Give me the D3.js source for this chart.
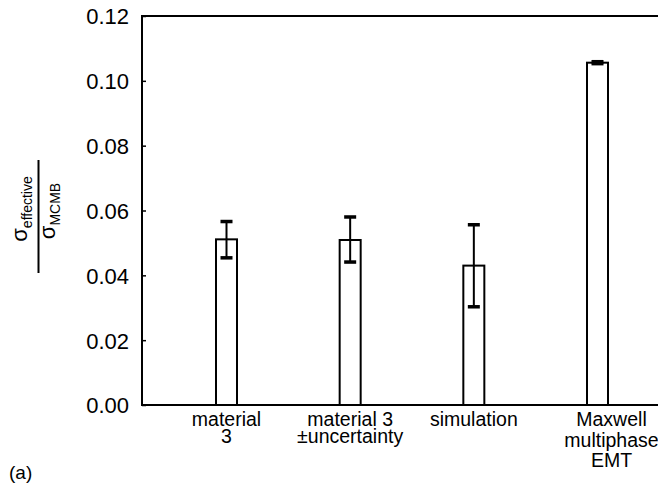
<!DOCTYPE html>
<meta charset="utf-8">
<head>
  <script src="https://cdnjs.cloudflare.com/ajax/libs/d3/7.8.5/d3.min.js"></script>
  <style>
    body { margin: 0; background: #fff; }
    svg { display: block; }
    text { font-family: "Liberation Sans", Arial, sans-serif; fill: #000; }
  </style>
</head>
<body>
<div id="my_dataviz"></div>
<script>

// data
var categories = ["material 3", "material 3 ±uncertainty", "simulation", "Maxwell multiphase EMT"];
var labelLines = [["material", "3"], ["material 3", "±uncertainty"], ["simulation"], ["Maxwell", "multiphase", "EMT"]];
var values = [0.0511, 0.0509, 0.0430, 0.1056];
var errLow = [0.0454, 0.0441, 0.0303, 0.1053];
var errHigh = [0.0566, 0.0580, 0.0556, 0.1059];
var yTicks = [0, 0.02, 0.04, 0.06, 0.08, 0.10, 0.12];

var W = 658, H = 487;
var plotLeft = 142, plotTop = 16, plotBottom = 405, plotRight = 658;

var svg = d3.select("#my_dataviz")
  .append("svg")
  .attr("width", W)
  .attr("height", H);

var y = d3.scaleLinear().domain([0, 0.12]).range([plotBottom, plotTop]);
var x = d3.scalePoint().domain(categories).range([226.5, 597.5]);

var data = categories.map(function (c, i) {
  return { cat: c, v: values[i], lo: errLow[i], hi: errHigh[i], lines: labelLines[i], i: i };
});

// Y axis (ticks pointing inward)
var yAxis = svg.append("g")
  .attr("transform", "translate(" + plotLeft + ",0)")
  .call(d3.axisLeft(y).tickValues(yTicks).tickSize(-4).tickPadding(13)
    .tickFormat(d3.format(".2f")));
yAxis.select(".domain").remove();
yAxis.selectAll(".tick line").attr("stroke", "#000").attr("stroke-width", 1.5);
yAxis.selectAll("text").style("font-size", "22px").attr("dy", "0.36em");

// frame: left, top and bottom lines
svg.append("path")
  .attr("d", "M" + plotRight + "," + plotTop + "H" + plotLeft + "V" + plotBottom + "H" + plotRight)
  .attr("fill", "none")
  .attr("stroke", "#000")
  .attr("stroke-width", 2);

var bw = 21;

// bars
svg.selectAll("mybar")
  .data(data)
  .enter()
  .append("rect")
  .attr("x", function (d) { return x(d.cat) - bw / 2; })
  .attr("y", function (d) { return y(d.v); })
  .attr("width", bw)
  .attr("height", function (d) { return plotBottom - y(d.v); })
  .attr("fill", "#fff")
  .attr("stroke", "#000")
  .attr("stroke-width", 2);

// error bars
svg.selectAll("myerr")
  .data(data)
  .enter()
  .append("line")
  .attr("x1", function (d) { return x(d.cat); })
  .attr("x2", function (d) { return x(d.cat); })
  .attr("y1", function (d) { return y(d.lo); })
  .attr("y2", function (d) { return y(d.hi); })
  .attr("stroke", "#000")
  .attr("stroke-width", 2);

["lo", "hi"].forEach(function (k) {
  svg.selectAll("mycap")
    .data(data)
    .enter()
    .append("line")
    .attr("x1", function (d) { return x(d.cat) - 6; })
    .attr("x2", function (d) { return x(d.cat) + 6; })
    .attr("y1", function (d) { return y(d[k]); })
    .attr("y2", function (d) { return y(d[k]); })
    .attr("stroke", "#000")
    .attr("stroke-width", 3.5);
});

// category labels
var labels = svg.selectAll("mylabel")
  .data(data)
  .enter()
  .append("text")
  .attr("text-anchor", "middle")
  .style("font-size", "19.5px")
  .attr("transform", function (d) {
    var shift = d.lines.length > 2 ? 14 : 0;
    return "translate(" + (x(d.cat) + shift) + ",426)";
  });
labels.each(function (d) {
  var lh = d.lines.length > 2 ? 20.5 : 17;
  d3.select(this).selectAll("tspan")
    .data(d.lines)
    .enter()
    .append("tspan")
    .attr("x", 0)
    .attr("y", function (t, j) { return j * lh; })
    .text(function (t) { return t; });
});

// y label: sigma_effective / sigma_MCMB
svg.append("line")
  .attr("x1", 38.5).attr("x2", 38.5)
  .attr("y1", 160).attr("y2", 273)
  .attr("stroke", "#000")
  .attr("stroke-width", 2);

var num = svg.append("text")
  .attr("transform", "translate(27,209) rotate(-90)")
  .attr("text-anchor", "middle");
num.append("tspan").style("font-size", "22px").text("σ");
num.append("tspan").style("font-size", "14px").attr("dy", 5).text("effective");

var den = svg.append("text")
  .attr("transform", "translate(55,211) rotate(-90)")
  .attr("text-anchor", "middle");
den.append("tspan").style("font-size", "22px").text("σ");
den.append("tspan").style("font-size", "14px").attr("dy", 5).text("MCMB");

// panel letter
svg.append("text")
  .attr("x", 9)
  .attr("y", 479)
  .style("font-size", "19px")
  .text("(a)");

</script>
</body>
